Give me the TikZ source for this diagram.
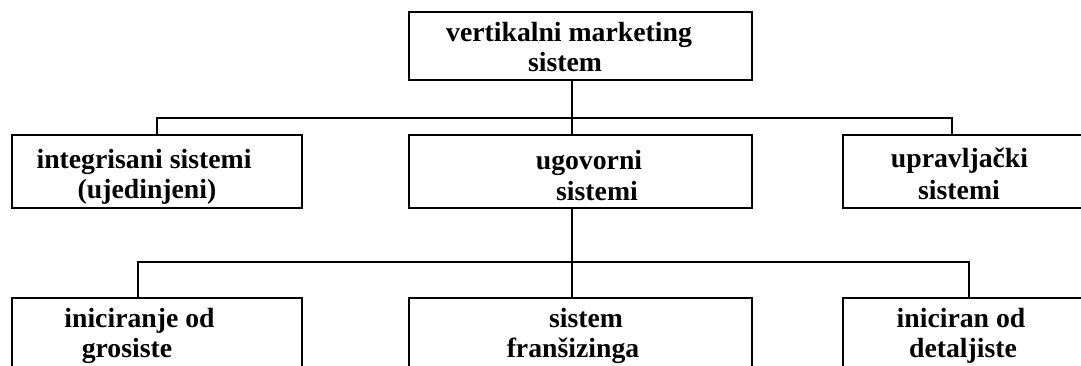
\documentclass[tikz,border=0pt]{standalone}
\usepackage{fontspec}
\setmainfont{Liberation Serif}
\usetikzlibrary{fit}
\begin{document}
\begin{tikzpicture}[x=0.75pt,y=-0.75pt,
  box/.style={draw,line width=1.4pt,inner sep=0pt,fit={#1}},
  txt/.style={anchor=base,inner sep=0pt,font=\fontsize{20.8}{22}\selectfont\bfseries},
  link/.style={line width=1.4pt}]
\useasboundingbox (0,0) rectangle (1081,366);
\clip (0,0) rectangle (1081,366);

% boxes
\node[box={(409,12) (752,80)}] (top) {};
\node[box={(12,135) (302,208)}] (integ) {};
\node[box={(409,135) (752,208)}] (ugov) {};
\node[box={(843,135) (1095,208)}] (upr) {};
\node[box={(12,298) (302,380)}] (gros) {};
\node[box={(409,298) (752,380)}] (fran) {};
\node[box={(843,298) (1095,380)}] (detal) {};

% texts
\node[txt] at (569,42) {vertikalni marketing};
\node[txt] at (565,72) {sistem};
\node[txt] at (144,169) {integrisani sistemi};
\node[txt] at (147,199) {(ujedinjeni)};
\node[txt] at (589,170) {ugovorni};
\node[txt] at (597,201) {sistemi};
\node[txt] at (959.5,168) {upravljački};
\node[txt] at (959,200) {sistemi};
\node[txt] at (139.5,328) {iniciranje od};
\node[txt] at (127,358) {grosiste};
\node[txt] at (586,328) {sistem};
\node[txt] at (573,358) {franšizinga};
\node[txt] at (961,328) {iniciran od};
\node[txt] at (963,358) {detaljiste};

% junction points of the two buses
\coordinate (a1) at (157,118);
\coordinate (a2) at (572,118);
\coordinate (a3) at (952,118);
\coordinate (b1) at (138,262);
\coordinate (b2) at (572,262);
\coordinate (b3) at (969,262);

% connectors
\draw[link] (top.south -| a2) -- (a2);
\draw[link] (integ.north -| a1) -- (a1) -- (a3) -- (upr.north -| a3);
\draw[link] (a2) -- (ugov.north -| a2);
\draw[link] (ugov.south -| b2) -- (b2);
\draw[link] (gros.north -| b1) -- (b1) -- (b3) -- (detal.north -| b3);
\draw[link] (b2) -- (fran.north -| b2);
\end{tikzpicture}
\end{document}
